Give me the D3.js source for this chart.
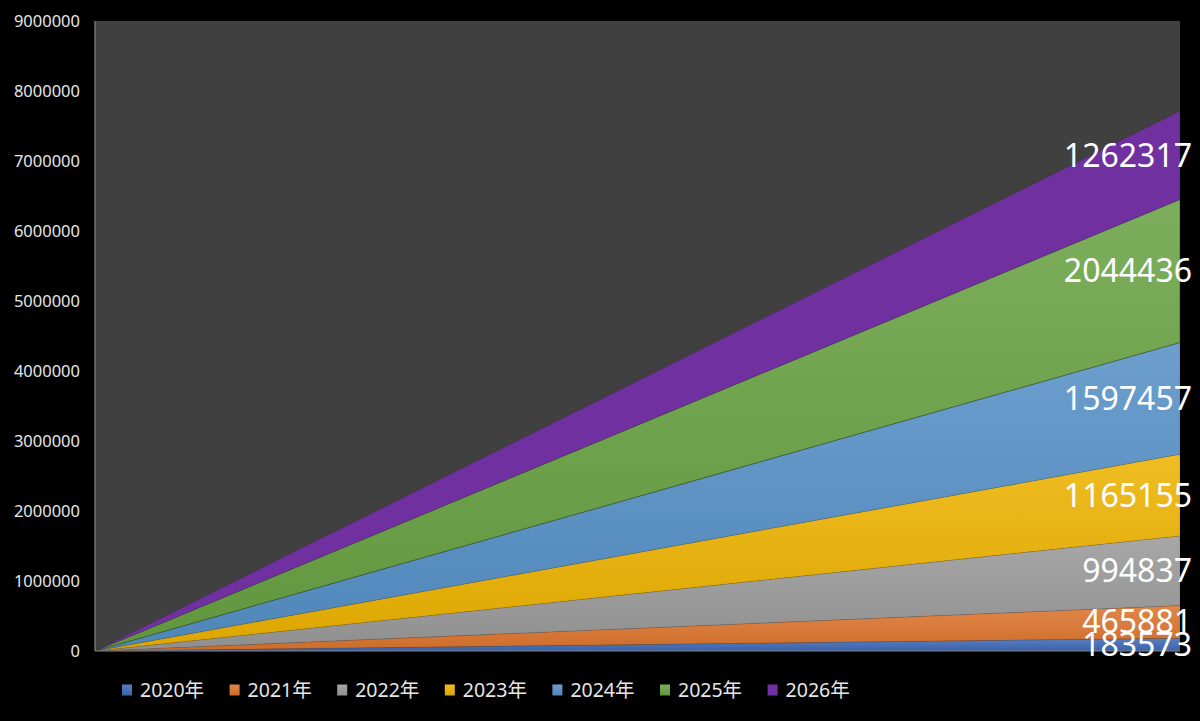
<!DOCTYPE html>
<html>
<head>
<meta charset="utf-8">
<script src="https://cdn.jsdelivr.net/npm/d3@7"></script>
<style>
  html, body { margin:0; padding:0; background:#000; }
  svg { display:block; }
</style>
</head>
<body>
<svg id="svg" width="1200" height="721"></svg>
<script>
// series (one per year), each runs from 0 at the start to its value at the end
var years   = ["2020年","2021年","2022年","2023年","2024年","2025年","2026年"],
    points  = ["start","end"],
    startV  = [0, 0, 0, 0, 0, 0, 0],
    endV    = [183573, 465881, 994837, 1165155, 1597457, 2044436, 1262317],
    yTicks  = [0,1000000,2000000,3000000,4000000,5000000,6000000,7000000,8000000,9000000];

var colors = ["#4472c4","#ed7d31","#a5a5a5","#ffc000","#5b9bd5","#70ad47","#7030a0"];

var svg = d3.select("#svg"),
    defs = svg.append("defs");

var pL = 95, pR = 1180, pT = 21, pB = 651;

var x = d3.scalePoint().domain(points).range([pL, pR]),
    y = d3.scaleLinear().domain([0, 9000000]).range([pB, pT]);

// rows for the stack: one per point
var rows = points.map((p, i) => {
    var r = {pt:p};
    years.forEach((yr, j) => r[yr] = (i ? endV : startV)[j]);
    return r;
});
var series = d3.stack().keys(years)(rows);

// plot area
svg.append("rect")
    .attr("x", pL).attr("y", pT).attr("width", pR-pL).attr("height", pB-pT)
    .attr("fill", "#404040");

// gradients, a bit greyer on top, darker at the bottom
years.forEach((yr, i) => {
    var c = colors[i],
        g = defs.append("linearGradient").attr("id", "g"+i)
            .attr("x1",0).attr("y1",0).attr("x2",0).attr("y2",1);
    var c0 = i === 6 ? c : d3.interpolateRgb(c, "#b0b0b0")(0.2),
        c1 = i === 6 ? c : d3.color(c).darker(0.4).formatHex();
    g.append("stop").attr("offset", "0%").attr("stop-color", c0);
    g.append("stop").attr("offset", "100%").attr("stop-color", c1);
});

var area = d3.area()
    .x(d => x(d.data.pt))
    .y0(d => y(d[0]))
    .y1(d => y(d[1]));

svg.append("g").selectAll("path").data(series).enter()
    .append("path")
    .attr("d", area)
    .attr("fill", (d, i) => "url(#g"+i+")")
    .attr("stroke", (d, i) => i === 5 ? "rgba(30,50,20,0.6)" : "rgba(0,0,0,0.15)")
    .attr("stroke-width", 0.7);

// axis lines
svg.append("line").attr("x1", pL).attr("x2", pL).attr("y1", pT).attr("y2", pB)
    .attr("stroke", "#868686").attr("stroke-width", 1.2);
svg.append("line").attr("x1", pL).attr("x2", pR).attr("y1", pB).attr("y2", pB)
    .attr("stroke", "#868686").attr("stroke-width", 1.2);

// y tick labels
svg.append("g").selectAll("text").data(yTicks).enter()
    .append("text")
    .attr("x", 80).attr("y", d => y(d)).attr("dy", "0.36em")
    .attr("text-anchor", "end")
    .attr("font-family", "Noto Sans, sans-serif").attr("font-size", 16.5)
    .attr("fill", "#e6e6e6")
    .text(d => d);

// data labels at the end point, centred in each band
svg.append("g").selectAll("text").data(series).enter()
    .append("text")
    .attr("x", 1192)
    .attr("y", d => { var e = d[d.length-1]; return y((e[0]+e[1])/2); })
    .attr("dy", "0.36em")
    .attr("text-anchor", "end")
    .attr("font-family", "Noto Sans, sans-serif").attr("font-size", 32)
    .attr("fill", "#fff")
    .text((d, i) => endV[i]);

// legend
var lg = svg.append("g").selectAll("g").data(years).enter()
    .append("g").attr("transform", (d, i) => "translate(" + (122 + 107.6*i) + ",690)");
lg.append("rect").attr("x", 0).attr("y", -5.5).attr("width", 10).attr("height", 11)
    .attr("fill", (d, i) => "url(#g"+i+")");
lg.append("text").attr("x", 18).attr("dy", "0.36em")
    .attr("font-family", "Noto Sans, 'Noto Sans CJK JP', sans-serif").attr("font-size", 19.5)
    .attr("fill", "#e6e6e6")
    .text(d => d);
</script>
</body>
</html>
